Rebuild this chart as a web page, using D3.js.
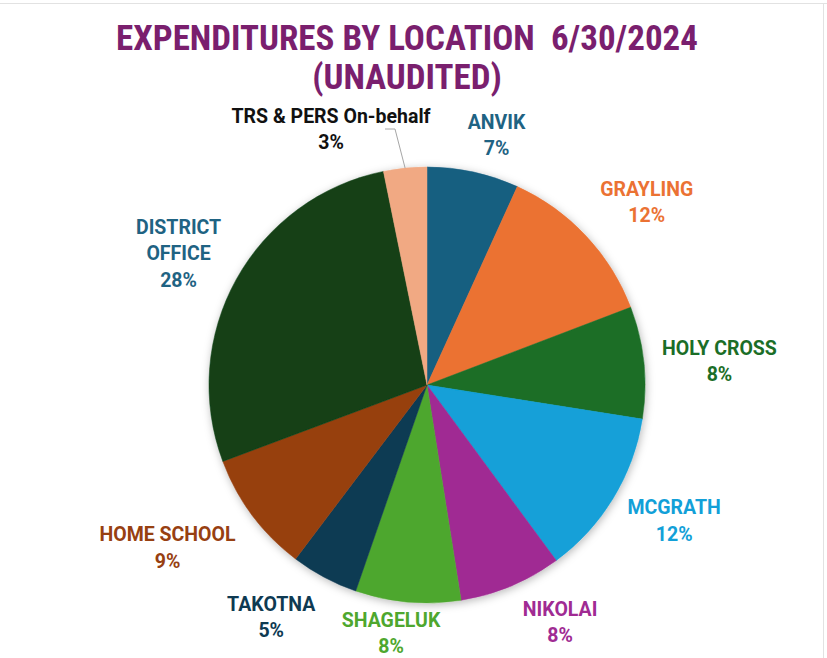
<!DOCTYPE html>
<html><head><meta charset="utf-8">
<script src="https://cdn.jsdelivr.net/npm/d3@7"></script>
<style>body{margin:0;background:#fff}svg{display:block}</style>
</head><body>
<script>
const categories = ["ANVIK","GRAYLING","HOLY CROSS","MCGRATH","NIKOLAI","SHAGELUK","TAKOTNA","HOME SCHOOL","DISTRICT OFFICE","TRS & PERS On-behalf"];
const values = [6.8,12.4,8.3,12.4,7.6,7.8,5.0,9.0,27.5,3.2];
const sliceColors = ["#175e80","#eb7233","#1b6e27","#12a0d8","#a02b93","#4ea72e","#0e3a52","#974011","#124116","#f1a983"];
const labelColors = ["#1f6383","#eb7233","#1b6e27","#12a0d8","#a02b93","#4ea72e","#0e3a52","#974011","#1f6383","#111111"];
const titleLines = ["EXPENDITURES BY LOCATION\u00a0 6/30/2024","(UNAUDITED)"];

const W=827,H=658,cx=427,cy=385,R=218;
const svg=d3.select("body").append("svg").attr("width",W).attr("height",H);
const defs=svg.append("defs");
const f=defs.append("filter").attr("id","sh").attr("x","-20%").attr("y","-20%").attr("width","140%").attr("height","140%");
f.append("feDropShadow").attr("dx",1).attr("dy",2).attr("stdDeviation",4).attr("flood-color","#000").attr("flood-opacity",0.28);

// frame lines
svg.append("line").attr("x1",0).attr("x2",W).attr("y1",3.5).attr("y2",3.5).attr("stroke","#e2e2e2").attr("stroke-width",1);
svg.append("line").attr("x1",823.5).attr("x2",823.5).attr("y1",3).attr("y2",H).attr("stroke","#e2e2e2").attr("stroke-width",1);

svg.selectAll("text.title").data(titleLines).join("text")
  .attr("x",407).attr("y",(d,i)=>50+i*38.5).attr("text-anchor","middle")
  .attr("font-family","'Liberation Sans Narrow','Roboto Condensed',Roboto,sans-serif")
  .attr("font-weight","bold").attr("font-size",35).attr("fill","#7a1f6e")
  .style("white-space","pre").text(d=>d);

const pie=d3.pie().sort(null).value(d=>d)(values);
const arc=d3.arc().innerRadius(0).outerRadius(R);
const g=svg.append("g").attr("transform",`translate(${cx},${cy})`);
g.append("g").attr("filter","url(#sh)").selectAll("path").data(pie).join("path")
  .attr("d",arc).attr("fill",(d,i)=>sliceColors[i]).attr("stroke",(d,i)=>sliceColors[i]).attr("stroke-width",0.5);

// label layout: radius and nudges (layout only)
const labelR=[262,285,292,280,270,250,280,305,284,0];
const nudge=[[14,6],[12,12],[2,6],[8,-10],[29,-12],[-14,-1],[-24,-15],[-15,-20],[0,6],[-96,-256]];
const fmt=v=>Math.round(v)+"%";
const fs=19.5;
pie.forEach((d,i)=>{
  const a=(d.startAngle+d.endAngle)/2;
  let x=Math.sin(a)*labelR[i]+nudge[i][0], y=-Math.cos(a)*labelR[i]+nudge[i][1];
  if(i===9){x=nudge[i][0]; y=nudge[i][1];}
  const words = categories[i]==="DISTRICT OFFICE" ? ["DISTRICT","OFFICE"] : [categories[i]];
  const lines = words.concat([fmt(d.value)]);
  const lh=26.5;
  const y0 = y - (lines.length-1)*lh/2;
  const t=g.append("text").attr("text-anchor","middle")
    .attr("font-family","Roboto,'Noto Sans',sans-serif").attr("font-weight","bold")
    .attr("font-size",fs).attr("fill",labelColors[i]);
  lines.forEach((s,j)=>t.append("tspan").attr("x",x).attr("y",y0+j*lh+fs*0.36).text(s));
});
// leader line for TRS
const trs=pie[9];
const ta=(trs.startAngle+trs.endAngle)/2;
g.append("polyline").attr("fill","none").attr("stroke","#a6a6a6").attr("stroke-width",1)
  .attr("points",[[385-cx,129-cy],[395-cx,129-cy],[Math.sin(ta)*R,-Math.cos(ta)*R]].map(p=>p.join(",")).join(" "));
</script>
</body></html>
